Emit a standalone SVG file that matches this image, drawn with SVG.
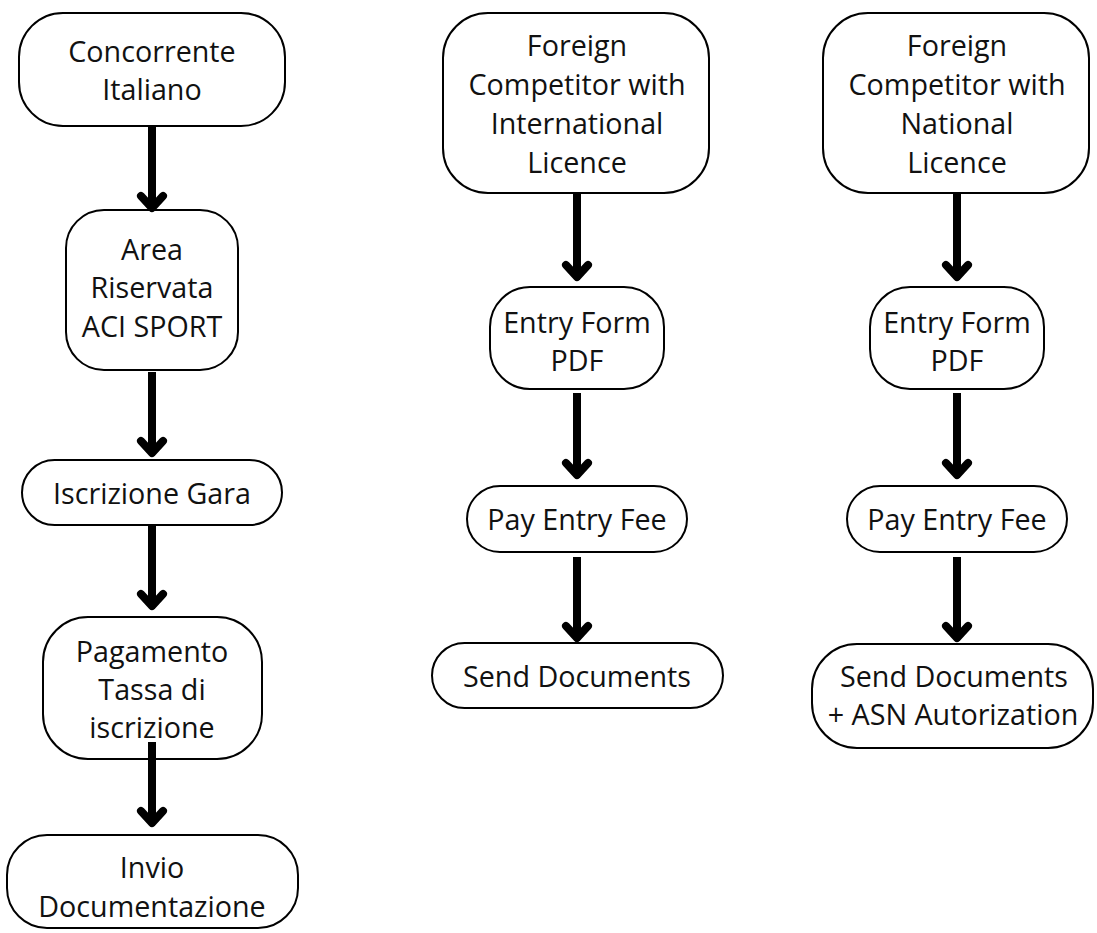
<svg xmlns="http://www.w3.org/2000/svg" width="1097" height="933" viewBox="0 0 1097 933">
<style>
.n{fill:#fff;stroke:#000;stroke-width:2}
.t{font-family:"Open Sans","Noto Sans",sans-serif;font-size:28.7px;fill:#111;text-anchor:middle}
.c{fill:none;stroke:#000;stroke-width:8;stroke-linecap:butt}
.h{fill:none;stroke:#000;stroke-width:8;stroke-linecap:round;stroke-linejoin:round}
</style>
<rect width="1097" height="933" fill="#fff"/>
<g id="n1"><rect class="n" x="19" y="13" width="266" height="113" rx="44"/><text class="t" x="152" y="62">Concorrente</text><text class="t" x="152" y="100">Italiano</text></g>
<g id="n2"><rect class="n" x="66" y="210" width="172" height="160" rx="38"/><text class="t" x="152" y="260">Area</text><text class="t" x="152" y="298">Riservata</text><text class="t" x="152" y="337">ACI SPORT</text></g>
<g id="n3"><rect class="n" x="22" y="460" width="260" height="65" rx="32.5"/><text class="t" x="152" y="504">Iscrizione Gara</text></g>
<g id="n4"><rect class="n" x="43" y="617" width="219" height="142" rx="45"/><text class="t" x="152" y="662">Pagamento</text><text class="t" x="152" y="700">Tassa di</text><text class="t" x="152" y="738">iscrizione</text></g>
<g id="n5"><rect class="n" x="7" y="835" width="291" height="93" rx="40"/><text class="t" x="152" y="878">Invio</text><text class="t" x="152" y="917">Documentazione</text></g>
<g id="m1"><rect class="n" x="443" y="13" width="266" height="180" rx="45"/><text class="t" x="577" y="56">Foreign</text><text class="t" x="577" y="95">Competitor with</text><text class="t" x="577" y="134">International</text><text class="t" x="577" y="173">Licence</text></g>
<g id="m2"><rect class="n" x="490" y="287" width="174" height="102" rx="40"/><text class="t" x="577" y="333">Entry Form</text><text class="t" x="577" y="371">PDF</text></g>
<g id="m3"><rect class="n" x="467" y="486" width="220" height="66" rx="33"/><text class="t" x="577" y="530">Pay Entry Fee</text></g>
<g id="m4"><rect class="n" x="432" y="643" width="291" height="65" rx="32.5"/><text class="t" x="577" y="687">Send Documents</text></g>
<g id="r1"><rect class="n" x="823" y="13" width="266" height="180" rx="45"/><text class="t" x="957" y="56">Foreign</text><text class="t" x="957" y="95">Competitor with</text><text class="t" x="957" y="134">National</text><text class="t" x="957" y="173">Licence</text></g>
<g id="r2"><rect class="n" x="870" y="287" width="174" height="102" rx="40"/><text class="t" x="957" y="333">Entry Form</text><text class="t" x="957" y="371">PDF</text></g>
<g id="r3"><rect class="n" x="847" y="486" width="220" height="66" rx="33"/><text class="t" x="957" y="530">Pay Entry Fee</text></g>
<g id="r4"><rect class="n" x="812" y="644" width="281" height="104" rx="45"/><text class="t" x="954" y="687">Send Documents</text><text class="t" x="953" y="725">+ ASN Autorization</text></g>
<g id="connectors">
<path class="c" d="M152 126V207"/><path class="h" d="M141 196L152 208L163 196"/>
<path class="c" d="M152 372V452"/><path class="h" d="M141 441L152 453L163 441"/>
<path class="c" d="M152 525V605"/><path class="h" d="M141 594L152 606L163 594"/>
<path class="c" d="M152 742V822"/><path class="h" d="M141 811L152 823L163 811"/>
<path class="c" d="M577 193V276"/><path class="h" d="M566 265L577 277L588 265"/>
<path class="c" d="M577 393V474"/><path class="h" d="M566 463L577 475L588 463"/>
<path class="c" d="M577 557V637"/><path class="h" d="M566 626L577 638L588 626"/>
<path class="c" d="M957 193V276"/><path class="h" d="M946 265L957 277L968 265"/>
<path class="c" d="M957 393V474"/><path class="h" d="M946 463L957 475L968 463"/>
<path class="c" d="M957 557V637"/><path class="h" d="M946 626L957 638L968 626"/>
</g>
</svg>
